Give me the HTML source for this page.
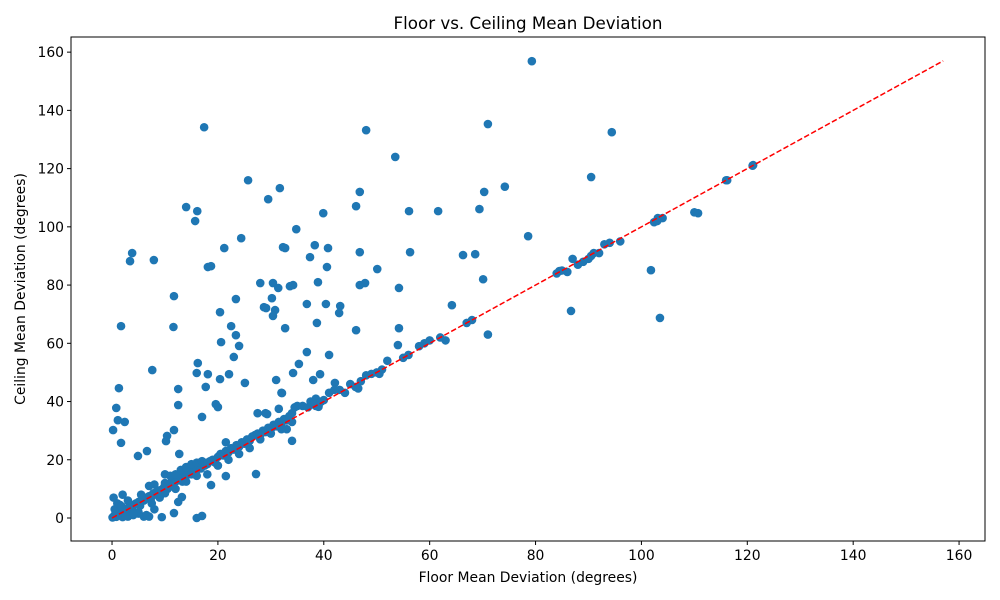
<!DOCTYPE html>
<html><head><meta charset="utf-8"><style>
body{margin:0;background:#fff;}
svg{display:block;font-family:"DejaVu Sans","Liberation Sans",sans-serif;}
</style></head><body>
<svg id="chart" width="1000" height="600" xmlns="http://www.w3.org/2000/svg">
<rect width="1000" height="600" fill="#fff"/>
<text x="528" y="29" text-anchor="middle" font-size="16.7">Floor vs. Ceiling Mean Deviation</text>
<text x="528" y="582" text-anchor="middle" font-size="13.9">Floor Mean Deviation (degrees)</text>
<text transform="translate(25,289) rotate(-90)" text-anchor="middle" font-size="13.9">Ceiling Mean Deviation (degrees)</text>
<g id="points"></g>
<g id="refline"></g>
<g id="axes"></g>
</svg>
<script>
const xs = [79.3,17.4,48.0,71.0,94.4,53.5,25.7,31.7,46.8,70.3,74.2,90.5,116.2,121.1,29.5,14,16.1,15.7,34.8,39.9,46.1,56.1,61.6,69.4,110.7,102.4,103.1,3.8,3.4,7.9,21.2,24.4,32.3,32.7,38.3,40.8,37.4,46.8,56.3,66.3,68.6,78.6,18.1,18.7,40.6,50.1,101.8,28,30.4,31.4,33.6,34.2,38.9,46.8,47.8,54.2,70.1,30.2,23.4,11.7,36.8,40.4,43.1,42.9,64.2,28.7,29.1,30.8,20.4,30.4,103.5,86.7,1.7,11.6,22.5,32.7,38.7,46.1,54.2,23.4,20.6,24,54,23,36.8,35.3,41,16.2,7.6,16,18.1,22.1,34.2,39.3,17.7,12.5,1.3,20.4,31,25.1,38,42.1,32.1,12.5,19.6,20,0.8,17,1.1,2.4,29.3,0.2,1.7,10.4,10.2,11.7,6.6,4.9,12.7,27.2,21.5,18.7,12.5,13.2,11.7,9.4,16,17,
62,63,67,68,58,55,56,59,84.5,85,86,87,88,89,90,90.5,91,92,93,94,96,104,84,103,110,116,121,71,50,51,52,48,47,45,46,44,43,42,41,60,
0.1,0.3,0.5,0.8,1,1.2,1.5,2,2.3,2.5,3,3.3,3.8,4,4.5,5,5.3,5.8,6,6.5,7,7.3,7.8,8,8.5,9,9.3,9.8,10,10.5,11,11.3,11.8,12,12.5,13,13.3,13.8,14,14.5,15,15.5,16,16.3,16.8,17,17.5,18,18.5,19,19.5,20,20.5,21,21.5,22,22.5,23,23.5,24,24.5,25,25.5,26,26.5,27,27.5,28,28.5,29,29.5,30,30.5,31,31.5,32,32.5,33,33.5,34,34.5,35,36,37,38,38.5,39,39.5,40,38.5,39,49,50.5,46.5,
2,3,4,5,6,7,8,7.5,9,10,12,14,16,18,20,22,24,26,28,30,32,34,0.3,1,2,3,0.5,1.5,5.5,7,8,10,11,12,13,14,15,16,17,18,10,33,34,21.5,29,27.5,31.5,32,37.5,38,39,6.5,5,4,2.5,1.8];
const ys = [156.9,134.2,133.2,135.3,132.5,124,116,113.3,112,112,113.8,117.1,116,121.2,109.5,106.8,105.4,102,99.2,104.7,107.1,105.4,105.4,106.1,104.7,101.6,103,91,88.2,88.6,92.7,96.1,93,92.7,93.7,92.7,89.6,91.3,91.3,90.3,90.6,96.8,86.2,86.5,86.2,85.5,85.1,80.7,80.7,79,79.6,80,81,80,80.7,79,82,75.5,75.2,76.2,73.5,73.5,72.8,70.4,73.1,72.4,72.1,71.4,70.7,69.4,68.7,71.1,65.9,65.6,65.9,65.2,67,64.5,65.2,62.8,60.4,59.1,59.4,55.3,57,52.9,56,53.2,50.8,49.8,49.4,49.4,49.8,49.4,45,44.3,44.6,47.7,47.4,46.4,47.4,46.4,42.9,38.8,39.1,38.1,37.8,34.7,33.6,33,35.7,30.2,25.8,28.2,26.4,30.2,23,21.3,22,15.1,14.4,11.3,5.5,7.2,1.7,0.3,0,0.7,
62,61,67,68,59,55,56,60,84.8,85,84.5,89,87,88,89,90,91,91,94,94.5,95,103,84,102,105,116,121,63,50,51,54,49,47,46,45,43,44,44,43,61,
0.2,0.5,1,0.4,1.5,2.5,1,2,3,1.8,3.2,4,3,4.5,5,5.5,4.2,6.5,6,7,7.5,6.2,8.5,8,9,9.5,8.3,10.5,11,10,12,11,13,12.5,13.5,14,12.5,15,14.5,16,15,17,16.5,18,17,19,18,18.5,19.5,20,19,21,22,21.5,23,22.5,24,23.5,25,24.5,26,25.5,27,26.5,28,28.5,29,28.5,30,29.5,31,30.5,32,31.5,33,32.5,34,33.5,35,36,38,38.5,38.5,38,40,41,39.5,40,40.5,38.5,38.2,49.5,49.5,44.5,
0.3,0.5,1,1.5,0.5,0.5,3,5,7,8.5,10,12.5,14.5,15,18,20,22,24,27,29,30.5,33,7,5,8,6,3,4.5,8,11,11.5,15,14.5,15,16.5,17.5,18.5,19,19.5,19,12,30.5,26.5,26,36,36,37.5,43,40,39,38.5,1,2,1.5,0.8,4];
const xTicks = [0,20,40,60,80,100,120,140,160];
const yTicks = [0,20,40,60,80,100,120,140,160];
const refMax = 157;

const L=71,R=985,T=37,B=541;
const xMin=-7.75, xMax=164.9, yMin=-7.9, yMax=165.2;
const sx=v=>L+(v-xMin)/(xMax-xMin)*(R-L);
const sy=v=>B-(v-yMin)/(yMax-yMin)*(B-T);
const NS="http://www.w3.org/2000/svg";
const mk=(t,a,p)=>{const e=document.createElementNS(NS,t);for(const k in a)e.setAttribute(k,a[k]);p.appendChild(e);return e;};

const pg=document.getElementById('points');
const n=Math.min(xs.length,ys.length);
for(let i=0;i<n;i++){
  const c=mk('circle',{cx:sx(xs[i]),cy:sy(ys[i]),r:4.3,fill:'#1f77b4'},pg);
  
  
}
const rl=document.getElementById('refline');
const ln=mk('line',{x1:sx(0),y1:sy(0),x2:sx(refMax),y2:sy(refMax),stroke:'#ff0000','stroke-width':1.5,'stroke-dasharray':'5.5,2.4'},rl);



const ax=document.getElementById('axes');
const fr=mk('rect',{x:L,y:T,width:R-L,height:B-T,fill:'none',stroke:'#000','stroke-width':1},ax);


xTicks.forEach(v=>{
  const x=sx(v);
  mk('line',{x1:x,y1:B,x2:x,y2:B+4,stroke:'#000'},ax);
  const t=mk('text',{x:x,y:B+19,'text-anchor':'middle','font-size':13.9},ax);
  t.textContent=v;
  
  
});
yTicks.forEach(v=>{
  const y=sy(v);
  mk('line',{x1:L-4,y1:y,x2:L,y2:y,stroke:'#000'},ax);
  const t=mk('text',{x:L-7,y:y+5,'text-anchor':'end','font-size':13.9},ax);
  t.textContent=v;
  
  
});
</script>
</body></html>
